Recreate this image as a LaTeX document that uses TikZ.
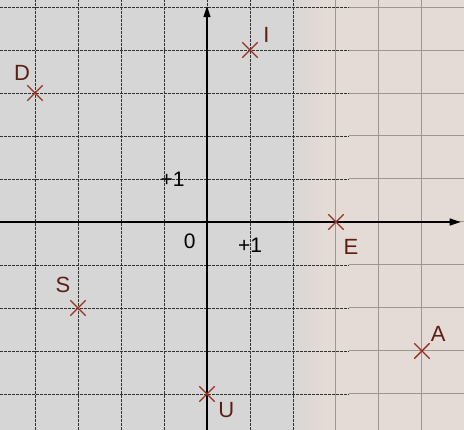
\documentclass[tikz,border=0pt]{standalone}
\usepackage{fontspec}
\setmainfont{Liberation Sans}
\usetikzlibrary{arrows.meta,shapes.misc}
\definecolor{bgl}{RGB}{214,214,214}
\definecolor{bgr}{RGB}{228,218,214}
\definecolor{crossc}{RGB}{150,50,30}
\definecolor{labc}{RGB}{90,32,18}
\definecolor{gridc}{RGB}{50,50,50}
\definecolor{gridl}{RGB}{160,150,145}
\tikzset{
  gridd/.style={gridc, line width=0.8pt, dash pattern=on 3pt off 1pt},
  gridsol/.style={gridl, line width=1pt},
  axisline/.style={black, line width=1.4pt, -{Triangle[length=11pt,width=7pt]}},
  crossmark/.style={cross out, draw=crossc, line width=1.4pt, minimum size=14pt, inner sep=0pt},
  lab/.style={text=labc, font=\fontsize{22}{26}\selectfont, inner sep=0pt},
  numlab/.style={text=black, font=\fontsize{21}{25}\selectfont, inner sep=0pt}
}
\begin{document}
\begin{tikzpicture}[x=43pt,y=43pt]
\useasboundingbox (-4.814,-4.837) rectangle (5.977,5.163);
\fill[bgl] (-4.814,-4.837) rectangle (1.9,5.163);
\shade[left color=bgl,right color=bgr] (1.9,-4.837) rectangle (2.7,5.163);
\fill[bgr] (2.7,-4.837) rectangle (5.977,5.163);
% grid
\foreach \i in {-4,...,2} \draw[gridd] (\i,-4.837) -- (\i,5.163);
\foreach \i in {3,4,5} \draw[gridsol] (\i,-4.837) -- (\i,5.163);
\foreach \j in {-4,...,5} {
  \draw[gridd] (-4.814,\j) -- (3.3,\j);
  \draw[gridsol] (3.3,\j) -- (5.977,\j);
}
% axes
\coordinate (xs) at (-4.814,0);
\coordinate (xe) at (5.9,0);
\coordinate (ys) at (0,-4.837);
\coordinate (ye) at (0,5.02);
\draw[axisline] (xs) -- (xe);
\draw[axisline] (ys) -- (ye);
% axis labels
\node[numlab] (zero) at (-0.40,-0.44) {0};
\node[numlab] (xone) at (1.0,-0.55) {+1};
\node[numlab] (yone) at (-0.80,1.0) {+1};
% points
\node[crossmark] (I) at (1,4) {};
\node[crossmark] (D) at (-4,3) {};
\node[crossmark] (E) at (3,0) {};
\node[crossmark] (S) at (-3,-2) {};
\node[crossmark] (A) at (5,-3) {};
\node[crossmark] (U) at (0,-4) {};
% labels
\node[lab] (Il) at (1.38,4.35) {I};
\node[lab] (Dl) at (-4.30,3.46) {D};
\node[lab] (El) at (3.35,-0.58) {E};
\node[lab] (Sl) at (-3.35,-1.46) {S};
\node[lab] (Al) at (5.38,-2.6) {A};
\node[lab] (Ul) at (0.45,-4.37) {U};
\end{tikzpicture}
\end{document}
